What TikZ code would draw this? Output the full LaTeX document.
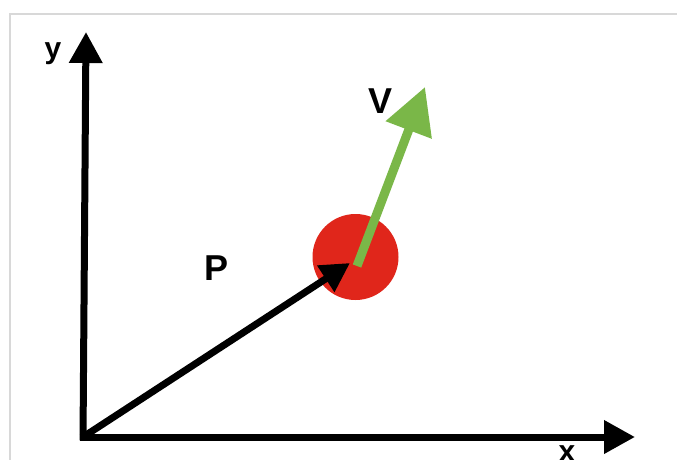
\documentclass[tikz,border=0pt]{standalone}
\usepackage{fontspec}
\setmainfont{Liberation Sans}
\usetikzlibrary{arrows.meta}
\definecolor{ballred}{RGB}{224,38,27}
\definecolor{vgreen}{RGB}{122,183,72}
\definecolor{framegray}{RGB}{216,216,216}
\tikzset{
  axis/.style={line width=7pt, -{Triangle[length=31pt,width=32pt]}},
  posvec/.style={line width=7pt, -{Triangle[length=29pt,width=30pt]}},
  velvec/.style={vgreen, line width=9pt, -{Triangle[length=46pt,width=47pt]}},
  lbl/.style={inner sep=0pt, anchor=base, font=\bfseries\fontsize{36}{40}\selectfont},
  axlbl/.style={inner sep=0pt, anchor=base, font=\bfseries\fontsize{30}{34}\selectfont}
}
\begin{document}
\begin{tikzpicture}[x=1pt,y=-1pt]
\useasboundingbox (0,0) rectangle (677,459);
\fill[white] (0,0) rectangle (677,459);
\draw[framegray, line width=2pt] (10,470) -- (10,14) -- (690,14);
\coordinate (O) at (83,437);
\coordinate (ybot) at (83,440.5);
\coordinate (ytip) at (86,32);
\coordinate (xstart) at (79.5,437);
\coordinate (xtip) at (635,437);
\coordinate (ptip) at (350,263);
\coordinate (gstart) at (357,266);
\coordinate (gtip) at (425,87);
\node[circle, fill=ballred, minimum size=86pt, inner sep=0pt] (ball) at (355.5,257) {};
\draw[axis] (ybot) -- (ytip);
\draw[axis] (xstart) -- (xtip);
\draw[velvec] (gstart) -- (gtip);
\draw[posvec] (O) -- (ptip);
\node[axlbl] (ylab) at (53,58) {y};
\node[axlbl] (xlab) at (567,461) {x};
\node[lbl] (plab) at (217,280) {P};
\node[lbl] (vlab) at (381,113) {V};
\end{tikzpicture}
\end{document}
